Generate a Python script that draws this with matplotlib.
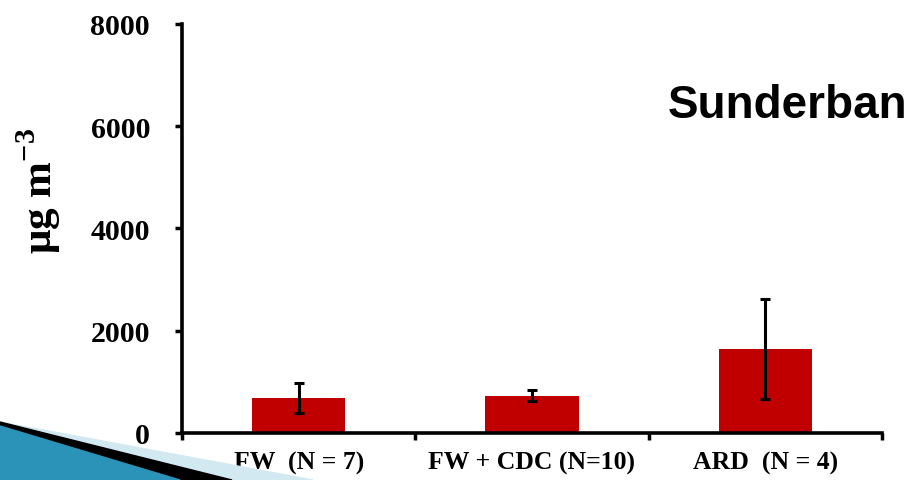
import matplotlib.pyplot as plt
from matplotlib.patches import Polygon

categories = ["FW  (N = 7)", "FW + CDC (N=10)", "ARD  (N = 4)"]
means = [685, 725, 1645]
errors = [285, 108, 980]
yticks = [0, 2000, 4000, 6000, 8000]

serif = "Liberation Serif"
plt.rcParams["mathtext.fontset"] = "custom"
plt.rcParams["mathtext.rm"] = "Liberation Serif:bold"
plt.rcParams["mathtext.bf"] = "Liberation Serif:bold"

fig = plt.figure(figsize=(9.23, 4.81), dpi=100)

# slide corner decoration (figure pixel coords, y from top)
W, H = 923, 481
def px(pts):
    return [(x / W, 1 - y / H) for x, y in pts]

fig.patches.append(Polygon(px([(0, 423), (313, 481), (0, 481)]), closed=True,
                           transform=fig.transFigure, color="#d3e9f1", zorder=0))
fig.patches.append(Polygon(px([(0, 423), (232, 481), (0, 481)]), closed=True,
                           transform=fig.transFigure, color="black", zorder=0))
fig.patches.append(Polygon(px([(0, 427), (180, 481), (0, 481)]), closed=True,
                           transform=fig.transFigure, color="#2c93b8", zorder=0))

ax = fig.add_axes([182 / W, 1 - 434 / H, 700 / W, 409 / H])
x = range(len(categories))
ax.bar(x, means, width=0.4, color="#c00000", zorder=2)
ax.errorbar(x, means, yerr=errors, fmt="none", ecolor="black",
            elinewidth=2.2, capsize=3.8, capthick=2.2, zorder=3)

ax.set_xlim(-0.5, 2.5)
ax.set_ylim(0, 8000)
ax.set_yticks(yticks)
ax.set_yticklabels([str(v) for v in yticks], fontfamily=serif,
                   fontweight="bold", fontsize=21.5)
ax.set_xticks([-0.5, 0.5, 1.5, 2.5])
ax.set_xticklabels([])
ax.set_xticks(list(x), minor=True)
ax.set_xticklabels(categories, minor=True, fontfamily=serif,
                   fontweight="bold", fontsize=18.5)
ax.tick_params(axis="x", which="minor", length=0, pad=13)
ax.tick_params(axis="both", which="major", width=2.5, length=5, direction="out")
ax.tick_params(axis="y", pad=18)

for side in ["top", "right"]:
    ax.spines[side].set_visible(False)
for side in ["left", "bottom"]:
    ax.spines[side].set_linewidth(2.6)
ax.patch.set_alpha(0)

ax.set_ylabel(r"μg m$^{-3}$", fontfamily=serif, fontweight="bold", fontsize=31)
ax.yaxis.set_label_coords((63 - 182) / 700, 0.595)

fig.text(668 / W, 1 - 106 / H, "Sunderban", fontfamily="Liberation Sans",
         fontweight="bold", fontsize=33, va="center", ha="left")

fig.savefig("out.png", dpi=100)
